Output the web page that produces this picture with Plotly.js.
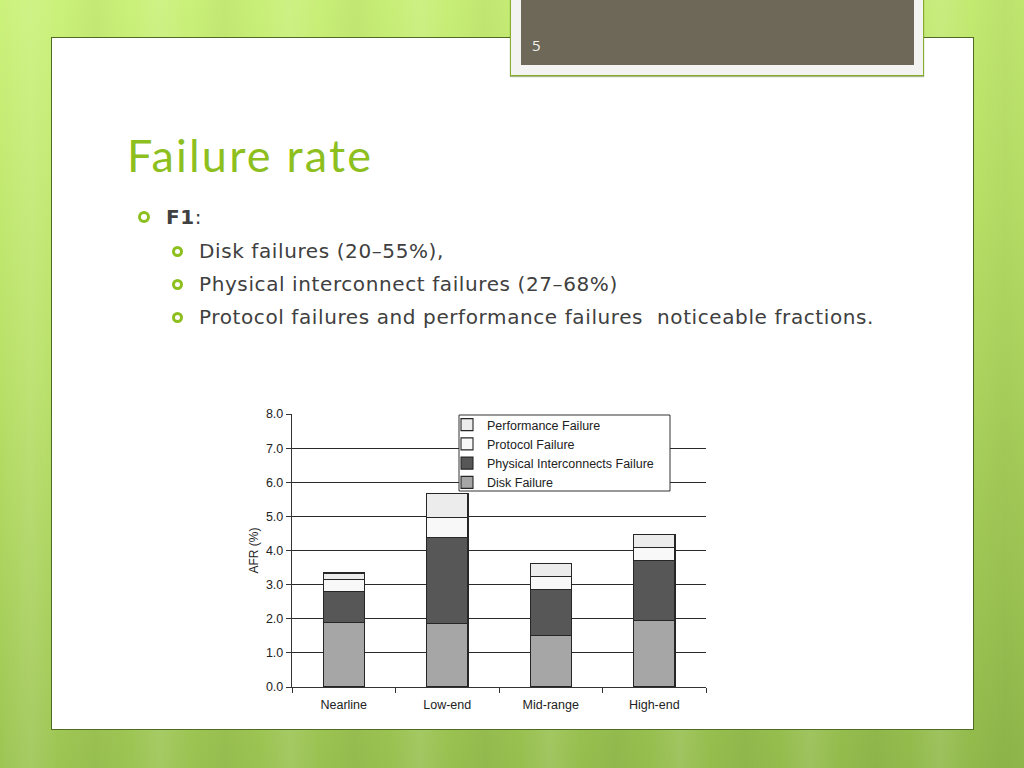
<!DOCTYPE html>
<html>
<head>
<meta charset="utf-8">
<script src="https://cdn.plot.ly/plotly-3.0.1.min.js"></script>
<style>
body { margin:0; width:1024px; height:768px; overflow:hidden; position:relative;
  background: linear-gradient(170deg, #cbf27a 0%, #b8e066 40%, #90b84a 100%); font-family: Lato, "Open Sans", sans-serif; }
.stripes { position:absolute; left:0; top:0; width:1024px; height:768px;
  background: repeating-linear-gradient(90deg, rgba(255,255,255,0.0) 0px, rgba(255,255,255,0.10) 30px, rgba(255,255,255,0.0) 60px, rgba(0,0,0,0.03) 95px, rgba(255,255,255,0.0) 130px); }
.panel { position:absolute; left:51px; top:37px; width:921px; height:691px; background:#fff; border:1px solid #4f6b22; }
.tab { position:absolute; left:510px; top:-2px; width:412px; height:77px; background:#f3f3f1; border:1px solid #86ad2e; border-top:none; box-shadow:0 1px 1px rgba(80,110,20,0.5); }
.tabInner { position:absolute; left:10px; top:2px; width:393px; height:65px; background:#6e6859; }
.pageNum { position:absolute; left:11px; top:35px; color:#f2f2ee; font-size:15px; font-family:"Open Sans", sans-serif; }
.title { position:absolute; left:127px; top:128px; color:#8dbf1e; font-size:45px; font-weight:400; letter-spacing:2.2px; }
.line { position:absolute; color:#404040; font-size:20px; letter-spacing:0.6px; white-space:nowrap; line-height:24px; font-family:"DejaVu Sans", sans-serif; }
.dot { position:absolute; border:3px solid #8dbf1e; border-radius:50%; box-sizing:border-box; }
#chart { position:absolute; left:0; top:0; width:1024px; height:768px; }
</style>
</head>
<body>
<div class="stripes"></div>
<div class="panel"></div>
<div class="tab"><div class="tabInner"><div class="pageNum">5</div></div></div>
<div class="title">Failure rate</div>

<div class="dot" style="left:138px; top:211px; width:12px; height:12px;"></div>
<div class="line" style="left:166px; top:205px;"><b>F1</b>:</div>
<div class="dot" style="left:172px; top:246px; width:11px; height:11px;"></div>
<div class="line" style="left:199px; top:239px;">Disk failures (20–55%),</div>
<div class="dot" style="left:172px; top:279px; width:11px; height:11px;"></div>
<div class="line" style="left:199px; top:272px;">Physical interconnect failures (27–68%)</div>
<div class="dot" style="left:172px; top:312px; width:11px; height:11px;"></div>
<div class="line" style="left:199px; top:305px;">Protocol failures and performance failures&nbsp; noticeable fractions.</div>

<div id="chart"></div>
<script>
// systems classes on the x axis
const systemClasses = ["Nearline", "Low-end", "Mid-range", "High-end"];

// AFR (%) per failure type
const diskFailure = [1.89, 1.85, 1.52, 1.96];
const physicalFailure = [0.91, 2.52, 1.35, 1.75];
const protocolFailure = [0.34, 0.60, 0.38, 0.39];
const performanceFailure = [0.20, 0.71, 0.37, 0.36];

const yTicks = [0, 1, 2, 3, 4, 5, 6, 7, 8];

function barTrace(name, values, color){
    return {
        type: "bar",
        name: name,
        x: systemClasses,
        y: values,
        width: 0.4,
        marker: {color: color, line: {color: "#262626", width: 1.1}},
        hoverinfo: "skip"
    };
}

const traces = [
    barTrace("Disk Failure", diskFailure, "#a6a6a6"),
    barTrace("Physical Interconnects Failure", physicalFailure, "#575757"),
    barTrace("Protocol Failure", protocolFailure, "#f8f8f8"),
    barTrace("Performance Failure", performanceFailure, "#ececec")
];

// plot area in page pixels
const plotL = 292, plotR = 706, plotT = 414, plotB = 687;

const layout = {
    width: 1024,
    height: 768,
    margin: {l: plotL, r: 1024 - plotR, t: plotT, b: 768 - plotB, pad: 0},
    paper_bgcolor: "rgba(0,0,0,0)",
    plot_bgcolor: "rgba(0,0,0,0)",
    barmode: "stack",
    showlegend: true,
    font: {family: "Liberation Sans, Arial, sans-serif", size: 12.5, color: "#222"},
    xaxis: {
        type: "category",
        tickson: "boundaries",
        ticks: "outside",
        ticklen: 5,
        tickcolor: "#333",
        showline: true,
        linecolor: "#333",
        linewidth: 1.2,
        showgrid: false,
        ticklabelstandoff: 6,
        tickfont: {size: 12.5, color: "#222"},
        fixedrange: true
    },
    yaxis: {
        range: [0, 8],
        tickvals: yTicks,
        tickformat: ".1f",
        ticks: "outside",
        ticklen: 5,
        tickcolor: "#333",
        showline: true,
        linecolor: "#333",
        linewidth: 1.2,
        showgrid: true,
        gridcolor: "#2a2a2a",
        gridwidth: 1.2,
        zeroline: false,
        tickfont: {size: 12.5, color: "#222"},
        title: {text: "AFR (%)", font: {size: 12, color: "#222"}, standoff: 4},
        fixedrange: true
    },
    legend: {
        x: (447 - plotL) / (plotR - plotL),
        y: (plotB - 410) / (plotB - plotT),
        xanchor: "left",
        yanchor: "top",
        traceorder: "reversed",
        bgcolor: "rgba(0,0,0,0)",
        borderwidth: 0,
        font: {size: 12.5, color: "#222"},
        itemclick: false
    },
    shapes: [{
        type: "rect",
        xref: "paper", yref: "paper",
        x0: (459 - plotL) / (plotR - plotL), x1: (670 - plotL) / (plotR - plotL),
        y0: (plotB - 491) / (plotB - plotT), y1: (plotB - 415) / (plotB - plotT),
        fillcolor: "#fff",
        line: {color: "#333", width: 1},
        layer: "above"
    }]
};

Plotly.newPlot("chart", traces, layout, {staticPlot: true});
</script>
</body>
</html>
